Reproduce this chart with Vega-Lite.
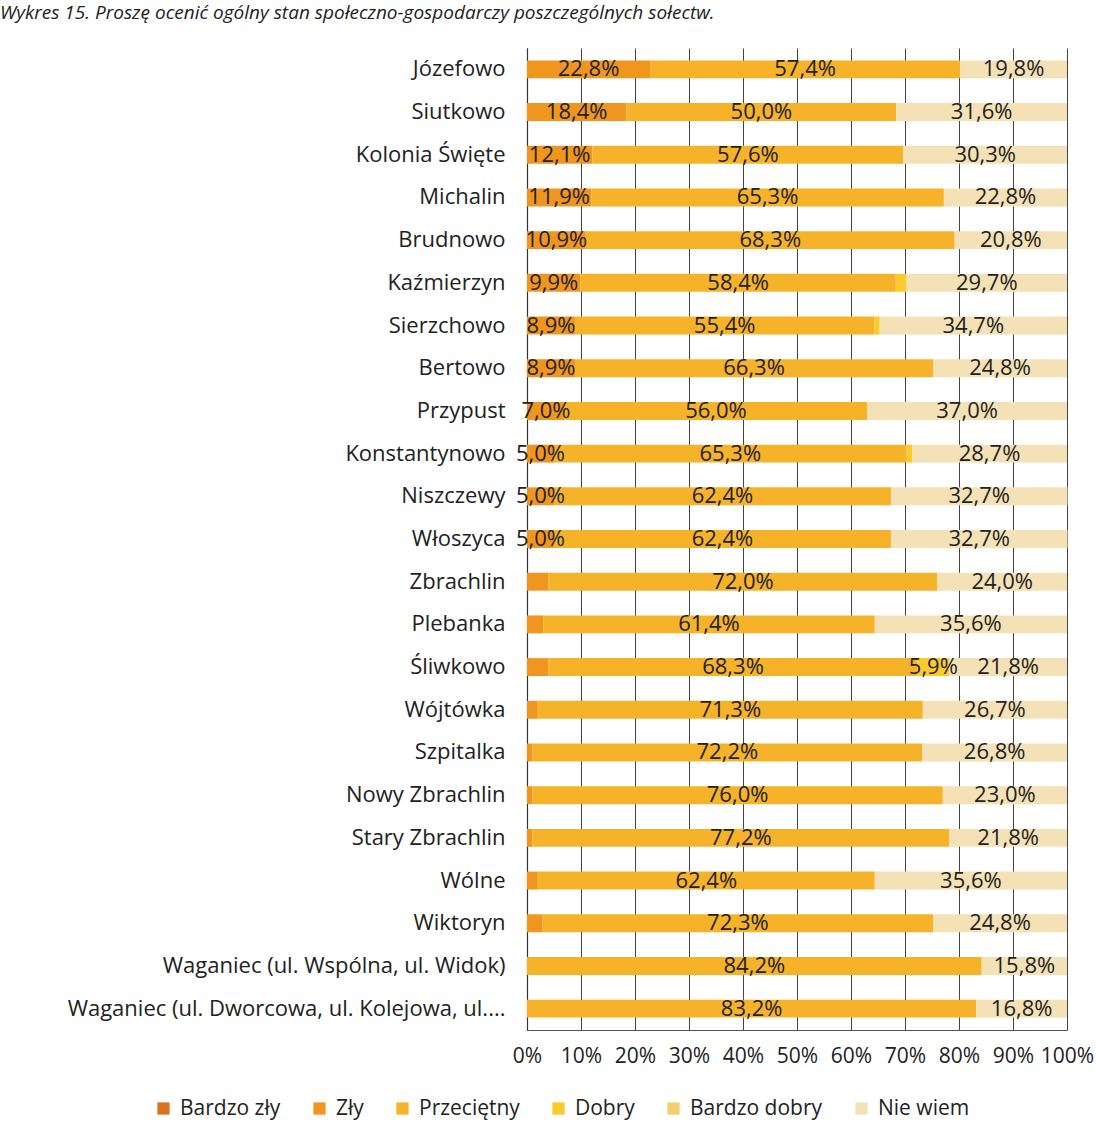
{
  "$schema": "https://vega.github.io/schema/vega-lite/v6.json",
  "autosize": "none",
  "width": 540,
  "height": 982,
  "padding": {"left": 527, "top": 48, "right": 29, "bottom": 110},
  "config": {
    "locale": {"number": {"decimal": ",", "thousands": " ", "grouping": [3], "currency": ["", " zł"], "percent": "%"}},
    "font": "Open Sans",
    "view": {"stroke": null}
  },
  "title": {
    "text": "Wykres 15. Proszę ocenić ogólny stan społeczno-gospodarczy poszczególnych sołectw.",
    "anchor": "start",
    "frame": "group",
    "dx": -527,
    "offset": 25,
    "fontSize": 19,
    "fontStyle": "italic",
    "fontWeight": "normal",
    "font": "Open Sans",
    "color": "#222"
  },
  "data": {
    "values": [
      {"wies": "Józefowo", "ocena": "Zły", "v": 0.228},
      {"wies": "Józefowo", "ocena": "Przeciętny", "v": 0.574},
      {"wies": "Józefowo", "ocena": "Nie wiem", "v": 0.198},
      {"wies": "Siutkowo", "ocena": "Zły", "v": 0.184},
      {"wies": "Siutkowo", "ocena": "Przeciętny", "v": 0.5},
      {"wies": "Siutkowo", "ocena": "Nie wiem", "v": 0.316},
      {"wies": "Kolonia Święte", "ocena": "Zły", "v": 0.121},
      {"wies": "Kolonia Święte", "ocena": "Przeciętny", "v": 0.576},
      {"wies": "Kolonia Święte", "ocena": "Nie wiem", "v": 0.303},
      {"wies": "Michalin", "ocena": "Zły", "v": 0.119},
      {"wies": "Michalin", "ocena": "Przeciętny", "v": 0.653},
      {"wies": "Michalin", "ocena": "Nie wiem", "v": 0.228},
      {"wies": "Brudnowo", "ocena": "Zły", "v": 0.109},
      {"wies": "Brudnowo", "ocena": "Przeciętny", "v": 0.683},
      {"wies": "Brudnowo", "ocena": "Nie wiem", "v": 0.208},
      {"wies": "Kaźmierzyn", "ocena": "Zły", "v": 0.099},
      {"wies": "Kaźmierzyn", "ocena": "Przeciętny", "v": 0.584},
      {"wies": "Kaźmierzyn", "ocena": "Dobry", "v": 0.02},
      {"wies": "Kaźmierzyn", "ocena": "Nie wiem", "v": 0.297},
      {"wies": "Sierzchowo", "ocena": "Zły", "v": 0.089},
      {"wies": "Sierzchowo", "ocena": "Przeciętny", "v": 0.554},
      {"wies": "Sierzchowo", "ocena": "Dobry", "v": 0.01},
      {"wies": "Sierzchowo", "ocena": "Nie wiem", "v": 0.347},
      {"wies": "Bertowo", "ocena": "Zły", "v": 0.089},
      {"wies": "Bertowo", "ocena": "Przeciętny", "v": 0.663},
      {"wies": "Bertowo", "ocena": "Nie wiem", "v": 0.248},
      {"wies": "Przypust", "ocena": "Zły", "v": 0.07},
      {"wies": "Przypust", "ocena": "Przeciętny", "v": 0.56},
      {"wies": "Przypust", "ocena": "Nie wiem", "v": 0.37},
      {"wies": "Konstantynowo", "ocena": "Zły", "v": 0.05},
      {"wies": "Konstantynowo", "ocena": "Przeciętny", "v": 0.653},
      {"wies": "Konstantynowo", "ocena": "Dobry", "v": 0.01},
      {"wies": "Konstantynowo", "ocena": "Nie wiem", "v": 0.287},
      {"wies": "Niszczewy", "ocena": "Zły", "v": 0.05},
      {"wies": "Niszczewy", "ocena": "Przeciętny", "v": 0.624},
      {"wies": "Niszczewy", "ocena": "Nie wiem", "v": 0.327},
      {"wies": "Włoszyca", "ocena": "Zły", "v": 0.05},
      {"wies": "Włoszyca", "ocena": "Przeciętny", "v": 0.624},
      {"wies": "Włoszyca", "ocena": "Nie wiem", "v": 0.327},
      {"wies": "Zbrachlin", "ocena": "Zły", "v": 0.04},
      {"wies": "Zbrachlin", "ocena": "Przeciętny", "v": 0.72},
      {"wies": "Zbrachlin", "ocena": "Nie wiem", "v": 0.24},
      {"wies": "Plebanka", "ocena": "Zły", "v": 0.03},
      {"wies": "Plebanka", "ocena": "Przeciętny", "v": 0.614},
      {"wies": "Plebanka", "ocena": "Nie wiem", "v": 0.356},
      {"wies": "Śliwkowo", "ocena": "Zły", "v": 0.04},
      {"wies": "Śliwkowo", "ocena": "Przeciętny", "v": 0.683},
      {"wies": "Śliwkowo", "ocena": "Dobry", "v": 0.059},
      {"wies": "Śliwkowo", "ocena": "Nie wiem", "v": 0.218},
      {"wies": "Wójtówka", "ocena": "Zły", "v": 0.02},
      {"wies": "Wójtówka", "ocena": "Przeciętny", "v": 0.713},
      {"wies": "Wójtówka", "ocena": "Nie wiem", "v": 0.267},
      {"wies": "Szpitalka", "ocena": "Zły", "v": 0.01},
      {"wies": "Szpitalka", "ocena": "Przeciętny", "v": 0.722},
      {"wies": "Szpitalka", "ocena": "Nie wiem", "v": 0.268},
      {"wies": "Nowy Zbrachlin", "ocena": "Zły", "v": 0.01},
      {"wies": "Nowy Zbrachlin", "ocena": "Przeciętny", "v": 0.76},
      {"wies": "Nowy Zbrachlin", "ocena": "Nie wiem", "v": 0.23},
      {"wies": "Stary Zbrachlin", "ocena": "Zły", "v": 0.01},
      {"wies": "Stary Zbrachlin", "ocena": "Przeciętny", "v": 0.772},
      {"wies": "Stary Zbrachlin", "ocena": "Nie wiem", "v": 0.218},
      {"wies": "Wólne", "ocena": "Zły", "v": 0.02},
      {"wies": "Wólne", "ocena": "Przeciętny", "v": 0.624},
      {"wies": "Wólne", "ocena": "Nie wiem", "v": 0.356},
      {"wies": "Wiktoryn", "ocena": "Zły", "v": 0.029},
      {"wies": "Wiktoryn", "ocena": "Przeciętny", "v": 0.723},
      {"wies": "Wiktoryn", "ocena": "Nie wiem", "v": 0.248},
      {"wies": "Waganiec (ul. Wspólna, ul. Widok)", "ocena": "Przeciętny", "v": 0.842},
      {"wies": "Waganiec (ul. Wspólna, ul. Widok)", "ocena": "Nie wiem", "v": 0.158},
      {"wies": "Waganiec (ul. Dworcowa, ul. Kolejowa, ul....", "ocena": "Przeciętny", "v": 0.832},
      {"wies": "Waganiec (ul. Dworcowa, ul. Kolejowa, ul....", "ocena": "Nie wiem", "v": 0.168}
    ]
  },
  "transform": [
    {"calculate": "indexof(['Bardzo zły','Zły','Przeciętny','Dobry','Bardzo dobry','Nie wiem'], datum.ocena)", "as": "k"},
    {"stack": "v", "groupby": ["wies"], "sort": [{"field": "k", "order": "ascending"}], "as": ["v0", "v1"]},
    {"calculate": "(datum.v0 + datum.v1) / 2", "as": "mid"}
  ],
  "encoding": {
    "y": {
      "field": "wies",
      "type": "nominal",
      "sort": ["Józefowo", "Siutkowo", "Kolonia Święte", "Michalin", "Brudnowo", "Kaźmierzyn", "Sierzchowo", "Bertowo", "Przypust", "Konstantynowo", "Niszczewy", "Włoszyca", "Zbrachlin", "Plebanka", "Śliwkowo", "Wójtówka", "Szpitalka", "Nowy Zbrachlin", "Stary Zbrachlin", "Wólne", "Wiktoryn", "Waganiec (ul. Wspólna, ul. Widok)", "Waganiec (ul. Dworcowa, ul. Kolejowa, ul...."],
      "scale": {"paddingInner": 0.58, "paddingOuter": 0.29},
      "axis": {
        "title": null,
        "ticks": false,
        "labelFontSize": 22,
        "labelColor": "#222",
        "labelPadding": 22,
        "labelLimit": 600,
        "domainColor": "#333",
        "domainWidth": 1.2,
        "grid": false
      }
    }
  },
  "layer": [
    {
      "mark": {"type": "bar"},
      "encoding": {
        "x": {
          "field": "v0",
          "type": "quantitative",
          "scale": {"domain": [0, 1], "nice": false},
          "axis": {
            "title": null,
            "format": ".0%",
            "values": [0, 0.1, 0.2, 0.3, 0.4, 0.5, 0.6, 0.7, 0.8, 0.9, 1],
            "ticks": false,
            "labelFontSize": 21,
            "labelColor": "#222",
            "labelPadding": 15,
            "grid": true,
            "gridColor": "#444",
            "gridWidth": 1,
            "domainColor": "#555",
            "labelFlush": false
          }
        },
        "x2": {"field": "v1"},
        "color": {
          "field": "ocena",
          "type": "nominal",
          "scale": {
            "domain": ["Bardzo zły", "Zły", "Przeciętny", "Dobry", "Bardzo dobry", "Nie wiem"],
            "range": ["#D9731F", "#F0961F", "#F6B32A", "#FBCB2C", "#F3CF6E", "#F4E2B6"]
          },
          "legend": {
            "title": null,
            "orient": "none",
            "legendX": -374,
            "legendY": 1050,
            "direction": "horizontal",
            "symbolType": "square",
            "symbolSize": 150,
            "symbolStrokeWidth": 0,
            "labelFontSize": 21,
            "labelColor": "#222",
            "labelOffset": 6,
            "columnPadding": 28,
            "gridAlign": "none"
          }
        }
      }
    },
    {
      "transform": [{"filter": "datum.v >= 0.05"}],
      "mark": {"type": "text", "fontSize": 22, "color": "#222", "baseline": "middle"},
      "encoding": {
        "x": {"field": "mid", "type": "quantitative"},
        "text": {"field": "v", "type": "quantitative", "format": ".1%"}
      }
    }
  ]
}
